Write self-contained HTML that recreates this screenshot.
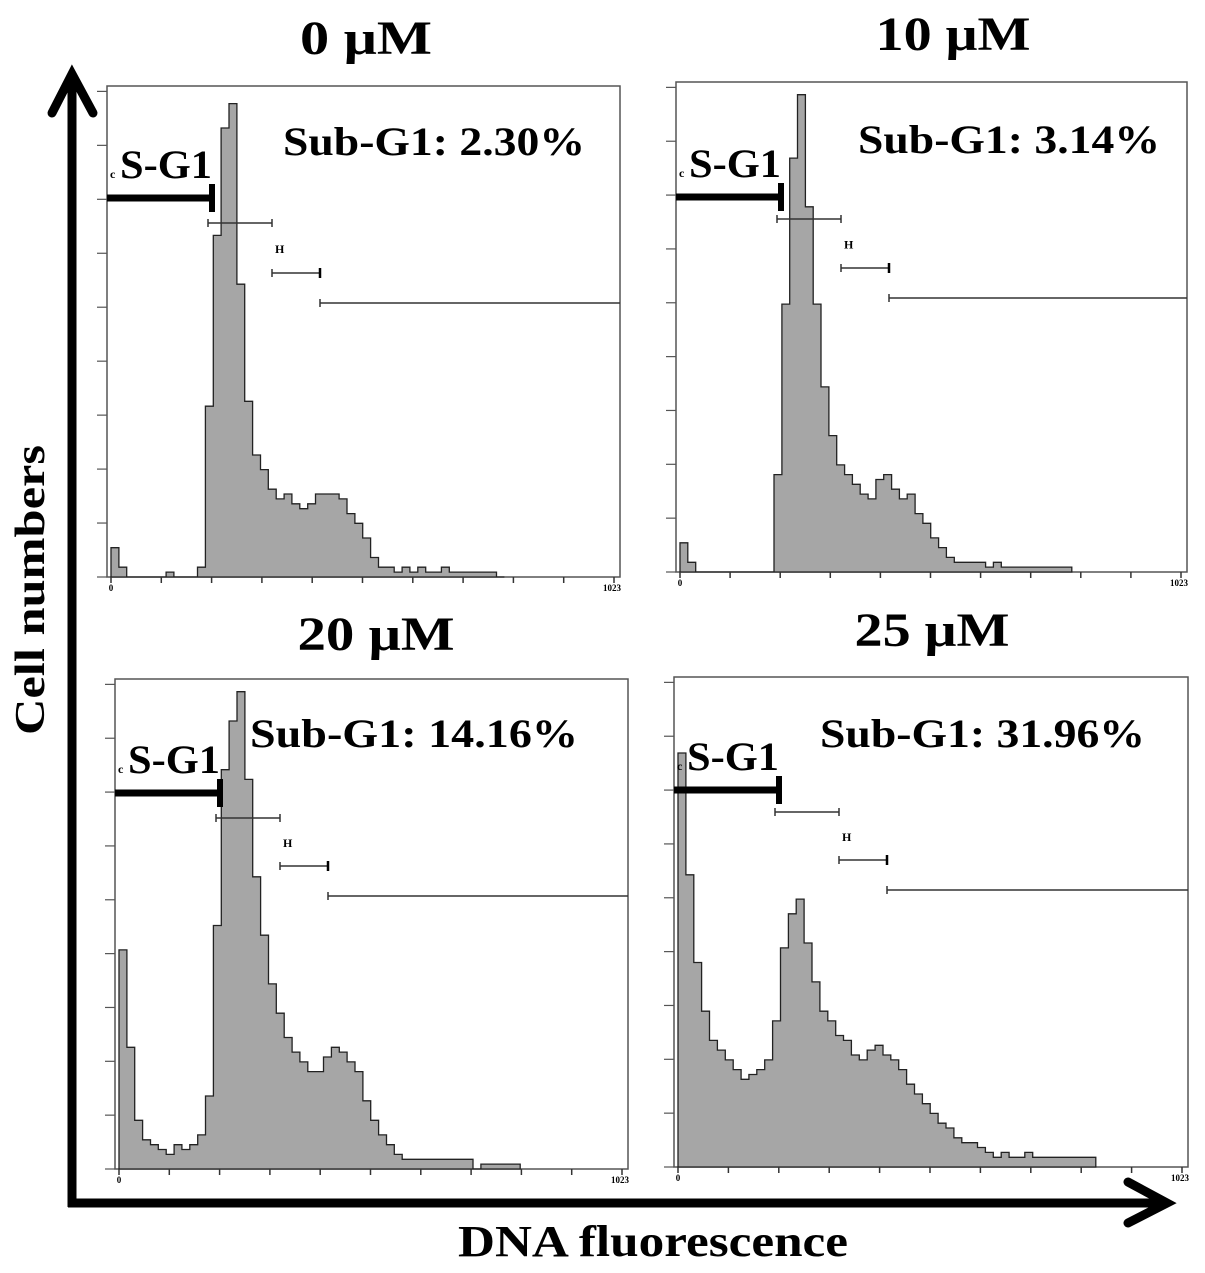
<!DOCTYPE html>
<html><head><meta charset="utf-8"><style>
html,body{margin:0;padding:0;background:#fff;}
svg{display:block;}
text{font-family:"Liberation Serif",serif;font-weight:bold;}
</style></head><body>
<svg id="fig" width="1205" height="1273" viewBox="0 0 1205 1273" xmlns="http://www.w3.org/2000/svg">
<g id="axes">
<line x1="72" y1="78" x2="72" y2="1207" stroke="#000" stroke-width="9"/>
<polyline points="52,113 72,74 93,113" fill="none" stroke="#000" stroke-width="9" stroke-linecap="round" stroke-linejoin="miter"/>
<line x1="68" y1="1203" x2="1165" y2="1203" stroke="#000" stroke-width="9"/>
<polyline points="1128,1182 1167,1203 1128,1223" fill="none" stroke="#000" stroke-width="9" stroke-linecap="round"/>
<text x="44" y="590" font-size="42" text-anchor="middle" textLength="290" lengthAdjust="spacingAndGlyphs" transform="rotate(-90 44 590)">Cell numbers</text>
<text x="653" y="1256" font-size="44" text-anchor="middle" textLength="390" lengthAdjust="spacingAndGlyphs">DNA fluorescence</text>
</g>
</svg>
<script>
// Histogram bins: 16 channels per bin (channel 0..1023), heights as fraction of panel full scale
const binWidth = 16;
const counts0 = [0.06,0.02,0,0,0,0,0,0.01,0,0,0,0.02,0.35,0.7,0.92,0.97,0.6,0.36,0.25,0.22,0.18,0.16,0.17,0.15,0.14,0.15,0.17,0.17,0.17,0.16,0.13,0.11,0.08,0.04,0.02,0.02,0.01,0.02,0.01,0.02,0.01,0.01,0.02,0.01,0.01,0.01,0.01,0.01,0.01,0];
const counts10 = [0.06,0.02,0,0,0,0,0,0,0,0,0,0,0.2,0.55,0.85,0.98,0.75,0.55,0.38,0.28,0.22,0.2,0.18,0.16,0.15,0.19,0.2,0.17,0.15,0.16,0.12,0.1,0.07,0.05,0.03,0.02,0.02,0.02,0.02,0.01,0.02,0.01,0.01,0.01,0.01,0.01,0.01,0.01,0.01,0.01];
const counts20 = [0.45,0.25,0.1,0.06,0.05,0.04,0.03,0.05,0.04,0.05,0.07,0.15,0.5,0.82,0.92,0.98,0.8,0.6,0.48,0.38,0.32,0.27,0.24,0.22,0.2,0.2,0.23,0.25,0.24,0.22,0.2,0.14,0.1,0.07,0.05,0.03,0.02,0.02,0.02,0.02,0.02,0.02,0.02,0.02,0.02,0,0.01,0.01,0.01,0.01,0.01];
const counts25 = [0.85,0.6,0.42,0.32,0.26,0.24,0.22,0.2,0.18,0.19,0.2,0.22,0.3,0.45,0.52,0.55,0.46,0.38,0.32,0.3,0.27,0.26,0.23,0.22,0.24,0.25,0.23,0.22,0.2,0.17,0.15,0.13,0.11,0.09,0.08,0.06,0.05,0.05,0.04,0.03,0.02,0.03,0.02,0.02,0.03,0.02,0.02,0.02,0.02,0.02,0.02,0.02,0.02];
const doseLabels = ["0 μM","10 μM","20 μM","25 μM"];
const subG1Labels = ["Sub-G1: 2.30%","Sub-G1: 3.14%","Sub-G1: 14.16%","Sub-G1: 31.96%"];
const xTickLabels = ["0","1023"];

const panels = [
 {counts:counts0, L:107,T:86,R:620,B:577, titleX:366,titleY:54,titleW:132, subX:283,subY:155,subW:302, gy:[198,223,273,303]},
 {counts:counts10, L:676,T:82,R:1187,B:572, titleX:953,titleY:50,titleW:155, subX:858,subY:153,subW:302, gy:[197,219,268,298]},
 {counts:counts20, L:115,T:679,R:628,B:1169, titleX:376,titleY:650,titleW:157, subX:250,subY:747,subW:328, gy:[793,818,866,896]},
 {counts:counts25, L:674,T:677,R:1188,B:1167, titleX:932,titleY:646,titleW:155, subX:820,subY:747,subW:325, gy:[790,812,860,890]}
];
const NS="http://www.w3.org/2000/svg";
const svg=document.getElementById('fig');
function mk(tag,attrs,parent){const e=document.createElementNS(NS,tag);for(const k in attrs)e.setAttribute(k,attrs[k]);(parent||svg).appendChild(e);return e;}

panels.forEach((p,pi)=>{
  const g=mk('g',{});
  
  
  const x0=p.L+4, x1=p.R-6;
  const xs=ch=>x0+(ch/1023)*(x1-x0);
  const ys=v=>p.B-v*(p.B-p.T-3);
  const fr=mk('rect',{x:p.L,y:p.T,width:p.R-p.L,height:p.B-p.T,fill:'#fff',stroke:'#555','stroke-width':1.5},g);
  
  
  let d='M'+xs(0).toFixed(1)+','+p.B;
  p.counts.forEach((c,i)=>{
    const a=xs(i*binWidth),b=xs((i+1)*binWidth),y=ys(c).toFixed(1);
    d+=' L'+a.toFixed(1)+','+y+' L'+b.toFixed(1)+','+y;
  });
  d+=' L'+xs(p.counts.length*binWidth).toFixed(1)+','+p.B+' Z';
  const h=mk('path',{d:d,fill:'#a6a6a6',stroke:'#222','stroke-width':1.3},g);
  
  
  for(let i=0;i<=10;i++){
    const tx=x0+i*(x1-x0)/10;
    const t=mk('line',{x1:tx,y1:p.B,x2:tx,y2:p.B+6,stroke:'#333','stroke-width':1.5},g);
    
    
  }
  for(let i=0;i<=9;i++){
    const ty=p.B-i*(p.B-p.T)/9.1;
    const t=mk('line',{x1:p.L-10,y1:ty,x2:p.L,y2:ty,stroke:'#555','stroke-width':1.2},g);
    
    
  }
  const l0=mk('text',{x:x0,y:p.B+14,'font-size':9,'text-anchor':'middle','font-family':'Liberation Sans'},g);
  l0.textContent=xTickLabels[0];
  
  
  const l1=mk('text',{x:x1-2,y:p.B+14,'font-size':9,'text-anchor':'middle','font-family':'Liberation Sans'},g);
  l1.textContent=xTickLabels[1];
  
  
  const gx0=p.L, gx1=p.L+105, gx2=gx1+60, gx3=gx2+48;
  const gg=mk('g',{},g);
  
  
  mk('line',{x1:gx0,y1:p.gy[0],x2:gx1,y2:p.gy[0],stroke:'#000','stroke-width':7},gg);
  mk('line',{x1:gx1,y1:p.gy[0]-14,x2:gx1,y2:p.gy[0]+14,stroke:'#000','stroke-width':6},gg);
  mk('line',{x1:gx1-4,y1:p.gy[1],x2:gx2,y2:p.gy[1],stroke:'#333','stroke-width':1.5},gg);
  mk('line',{x1:gx1-4,y1:p.gy[1]-4,x2:gx1-4,y2:p.gy[1]+4,stroke:'#333','stroke-width':1.5},gg);
  mk('line',{x1:gx2,y1:p.gy[1]-4,x2:gx2,y2:p.gy[1]+4,stroke:'#333','stroke-width':1.5},gg);
  mk('line',{x1:gx2,y1:p.gy[2],x2:gx3,y2:p.gy[2],stroke:'#333','stroke-width':1.5},gg);
  mk('line',{x1:gx2,y1:p.gy[2]-4,x2:gx2,y2:p.gy[2]+4,stroke:'#333','stroke-width':1.5},gg);
  mk('line',{x1:gx3,y1:p.gy[2]-5,x2:gx3,y2:p.gy[2]+5,stroke:'#000','stroke-width':2.5},gg);
  mk('line',{x1:gx3,y1:p.gy[3],x2:p.R,y2:p.gy[3],stroke:'#333','stroke-width':1.5},gg);
  mk('line',{x1:gx3,y1:p.gy[3]-4,x2:gx3,y2:p.gy[3]+4,stroke:'#333','stroke-width':1.5},gg);
  const hl=mk('text',{x:gx2+3,y:(p.gy[1]+p.gy[2])/2+5,'font-size':12,'font-family':'Liberation Sans'},gg);
  hl.textContent='H';
  
  
  const cl=mk('text',{x:p.L+3,y:p.gy[0]-20,'font-size':12,'font-family':'Liberation Sans'},gg);
  cl.textContent='c';
  
  
  const sg=mk('text',{x:p.L+13,y:p.gy[0]-20,'font-size':40,textLength:92,lengthAdjust:'spacingAndGlyphs'},g);
  sg.textContent='S-G1';
  
  
  const sub=mk('text',{x:p.subX,y:p.subY,'font-size':40,textLength:p.subW,lengthAdjust:'spacingAndGlyphs'},g);
  sub.textContent=subG1Labels[pi];
  
  
  const tt=mk('text',{x:p.titleX-p.titleW/2,y:p.titleY,'font-size':48,textLength:p.titleW,lengthAdjust:'spacingAndGlyphs'},svg);
  tt.textContent=doseLabels[pi];
  
  
});
</script>
</body></html>
